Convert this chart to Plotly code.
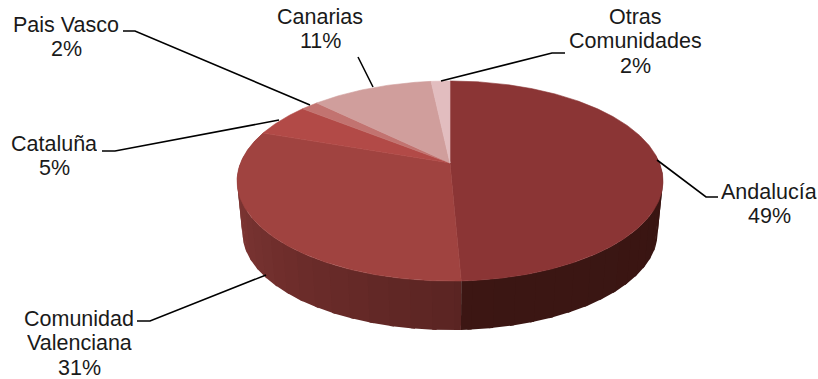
import numpy as np
import plotly.graph_objects as go

# --- data ---
categories = ["Andalucía", "Comunidad Valenciana", "Cataluña", "Pais Vasco", "Canarias", "Otras Comunidades"]
values = [49.3, 31.0, 5.4, 1.6, 11.0, 1.7]
labels = [["Andalucía", "49%"], ["Comunidad", "Valenciana", "31%"], ["Cataluña", "5%"],
          ["Pais Vasco", "2%"], ["Canarias", "11%"], ["Otras", "Comunidades", "2%"]]
top_colors = ["#8B3535", "#A04340", "#B24A47", "#C27370", "#D09E9C", "#E2BDBF"]

# --- layout of the drawing, in page pixels ---
W, H = 818, 379
CX, CY = 450.0, 163.0
P_A, P_B, P_C = 96.8, -0.18, 209.5      # perspective of the pie's top face
SIDE_SCALE, SIDE_DROP = 0.975, 52.0
label_x = [769, 79, 54, 66, 320, 635]
label_y = [[192, 216], [319, 343, 367.5], [144, 168], [25, 49], [17, 41], [17, 41, 66]]
leaders = [
    ([657, 706, 718], [160, 197, 197]),
    ([137, 150, 266], [321, 321, 275]),
    ([102, 115, 279], [151, 151, 120]),
    ([123, 135, 310], [31, 31, 105]),
    ([358, 373], [57, 87]),
    ([565, 552, 441], [53, 53, 81]),
]
FONT = dict(family="Liberation Sans, Arial", size=21.5, color="#1a1a1a")


def rim(theta_deg):
    t = np.radians(theta_deg)
    u, v = np.sin(t), -np.cos(t)
    d = 1 + P_B * v
    return P_C * u / d, P_A * v / d


def top_xy(theta):
    x, y = rim(theta)
    return CX + x, CY + y


def bottom_xy(theta):
    x, y = rim(theta)
    return CX + x * SIDE_SCALE, CY + y * SIDE_SCALE + SIDE_DROP


def mix(c1, c2, f):
    return "rgb(%d,%d,%d)" % tuple(round(a + (b - a) * f) for a, b in zip(c1, c2))


fig = go.Figure()
edges = np.concatenate([[0], np.cumsum(values)]) / sum(values) * 360


def poly(x, y, color, width=0.0):
    fig.add_trace(go.Scatter(x=x, y=y, mode="lines", fill="toself", fillcolor=color,
                             line=dict(color=color, width=width), hoverinfo="skip", showlegend=False))


# side wall: Valenciana part gets a banded gradient, Andalucía part is nearly black-brown
band = 5.0
a_end = edges[1]
a_start = edges[2]
for s in np.arange(a_start, a_end - 1e-6, -band):
    e = max(s - band - 1.0, a_end)      # overlaps the next band so no seam shows
    th = np.linspace(s, e, 6)
    tx, ty = top_xy(th)
    bx, by = bottom_xy(th)
    f = (a_start - (s + e) / 2) / (a_start - a_end)
    poly(list(tx) + list(bx[::-1]), list(ty) + list(by[::-1]), mix((140, 60, 58), (90, 36, 34), f))
for s in np.arange(85.0, a_end, band):
    e = min(s + band + 1.0, a_end)
    th = np.linspace(s, e, 6)
    tx, ty = top_xy(th)
    bx, by = bottom_xy(th)
    f = (s - 85.0) / (a_end - 85.0)
    poly(list(tx) + list(bx[::-1]), list(ty) + list(by[::-1]), mix((56, 21, 18), (60, 22, 19), f))

# top face
for i in range(len(values)):
    th = np.linspace(edges[i], edges[i + 1], max(int(edges[i + 1] - edges[i]) * 2, 8))
    x, y = top_xy(th)
    poly([CX] + list(x) + [CX], [CY] + list(y) + [CY], top_colors[i], 0.6)

# leader lines
for lx, ly in leaders:
    fig.add_trace(go.Scatter(x=lx, y=ly, mode="lines", line=dict(color="#000000", width=1.6),
                             hoverinfo="skip", showlegend=False))

# labels
annotations = []
for lines, x, ys in zip(labels, label_x, label_y):
    for text, y in zip(lines, ys):
        annotations.append(dict(x=x, y=y, text=text, showarrow=False, xanchor="center", yanchor="middle",
                                height=22, font=FONT, xref="x", yref="y"))

fig.update_layout(
    width=W, height=H, margin=dict(l=0, r=0, t=0, b=0),
    paper_bgcolor="white", plot_bgcolor="white", annotations=annotations,
    xaxis=dict(range=[0, W], visible=False, fixedrange=True),
    yaxis=dict(range=[H, 0], visible=False, fixedrange=True),
)
fig.write_html("out.html", config={"displayModeBar": False},
               post_script="document.body.style.margin='0';document.body.style.overflow='hidden';")
